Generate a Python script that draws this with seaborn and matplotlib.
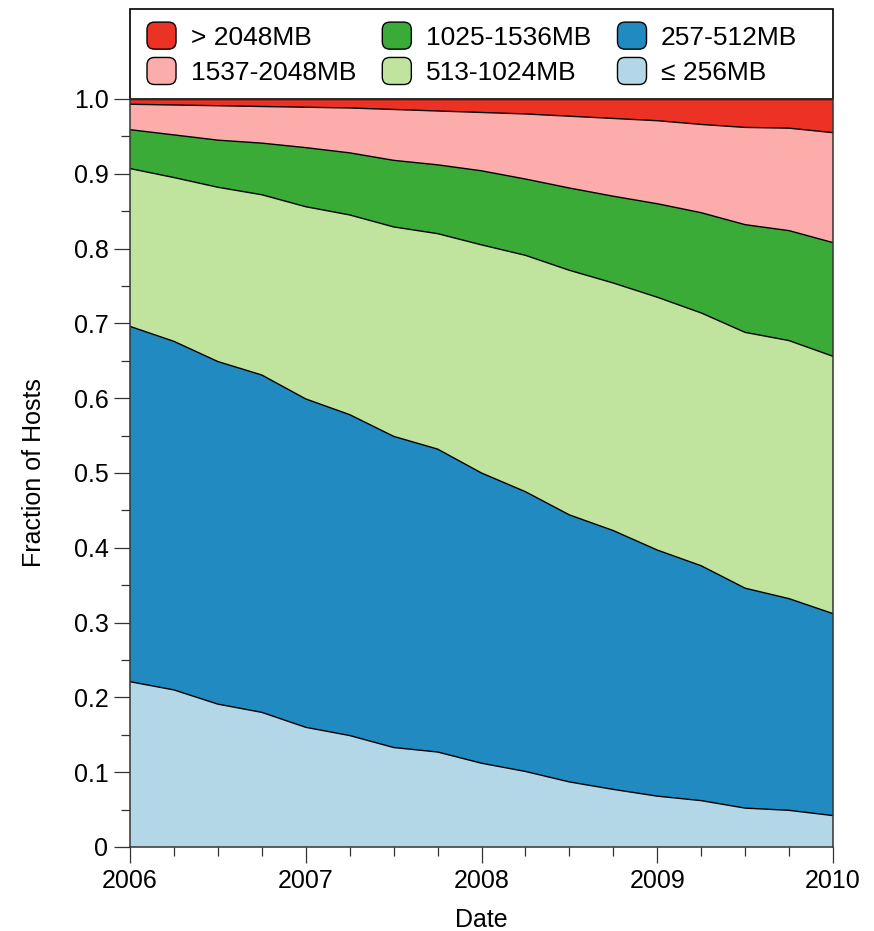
import matplotlib
matplotlib.use("Agg")
import numpy as np
import pandas as pd
import matplotlib.pyplot as plt
import seaborn as sns
from matplotlib.patches import FancyBboxPatch, Rectangle, Patch
from matplotlib.legend_handler import HandlerPatch
from matplotlib.ticker import MultipleLocator, FuncFormatter

# Quarterly sample dates (decimal years)
quarters = [2006.00, 2006.25, 2006.50, 2006.75,
            2007.00, 2007.25, 2007.50, 2007.75,
            2008.00, 2008.25, 2008.50, 2008.75,
            2009.00, 2009.25, 2009.50, 2009.75,
            2010.00]

# Fraction of hosts in each memory class, bottom to top of the stack
mem_le256 = [0.221, 0.210, 0.191, 0.180, 0.160, 0.149, 0.133, 0.127, 0.112,
             0.101, 0.087, 0.077, 0.068, 0.062, 0.052, 0.049, 0.042]
mem_257_512 = [0.475, 0.466, 0.458, 0.451, 0.439, 0.429, 0.416, 0.405, 0.388,
               0.374, 0.357, 0.346, 0.329, 0.314, 0.294, 0.283, 0.270]
mem_513_1024 = [0.211, 0.219, 0.233, 0.241, 0.257, 0.267, 0.280, 0.288, 0.305,
                0.316, 0.327, 0.331, 0.338, 0.338, 0.342, 0.345, 0.344]
mem_1025_1536 = [0.052, 0.057, 0.063, 0.069, 0.079, 0.083, 0.089, 0.092, 0.099,
                 0.102, 0.110, 0.116, 0.125, 0.134, 0.144, 0.147, 0.152]
mem_1537_2048 = [0.034, 0.040, 0.046, 0.049, 0.054, 0.060, 0.068, 0.072, 0.078,
                 0.087, 0.096, 0.104, 0.111, 0.118, 0.130, 0.137, 0.147]
mem_gt2048 = [0.007, 0.008, 0.009, 0.010, 0.011, 0.012, 0.014, 0.016, 0.018,
              0.020, 0.023, 0.026, 0.029, 0.034, 0.038, 0.039, 0.045]

series_labels = ["\u2264 256MB", "257-512MB", "513-1024MB",
                 "1025-1536MB", "1537-2048MB", "> 2048MB"]
series_values = [mem_le256, mem_257_512, mem_513_1024,
                 mem_1025_1536, mem_1537_2048, mem_gt2048]
series_colors = ["#b4d7e8", "#218ac1", "#c0e49e",
                 "#3bab38", "#fcacaa", "#ec3224"]

sns.set_theme(style="ticks")
plt.rcParams["font.family"] = ["Liberation Sans", "DejaVu Sans"]
plt.rcParams["text.color"] = "black"
plt.rcParams["axes.labelcolor"] = "black"
FS = 18
LEG_FS = 19

# Long table of the cumulative upper boundary of every layer
cum = np.cumsum(np.array(series_values), axis=0)
bounds = pd.DataFrame({
    "date": np.tile(quarters, len(series_labels)),
    "top": cum.ravel(),
    "layer": np.repeat(series_labels, len(quarters)),
})

fig = plt.figure(figsize=(8.74, 9.31), dpi=100)
ax = fig.add_axes([130 / 874, 1 - 847 / 931, 703 / 874, 748 / 931])

lower = np.zeros(len(quarters))
for label, color in zip(series_labels, series_colors):
    upper = bounds.loc[bounds["layer"] == label, "top"].to_numpy()
    ax.fill_between(quarters, lower, upper, facecolor=color, edgecolor="none",
                    linewidth=0, zorder=1)
    lower = upper

sns.lineplot(data=bounds, x="date", y="top", units="layer", estimator=None,
             color="black", linewidth=1.0, ax=ax, zorder=2, legend=False)

ax.set_xlim(2006, 2010)
ax.set_ylim(0, 1.0)
ax.xaxis.set_major_locator(MultipleLocator(1))
ax.xaxis.set_minor_locator(MultipleLocator(0.25))
ax.yaxis.set_major_locator(MultipleLocator(0.1))
ax.yaxis.set_minor_locator(MultipleLocator(0.05))
ax.xaxis.set_major_formatter(FuncFormatter(lambda v, p: f"{int(round(v))}"))
ax.yaxis.set_major_formatter(
    FuncFormatter(lambda v, p: "0" if abs(v) < 1e-9 else f"{v:.1f}"))

ax.tick_params(axis="both", which="major", direction="out", length=11.5,
               width=0.9, color="#333333", labelsize=FS, pad=4, labelcolor="black")
ax.tick_params(axis="both", which="minor", direction="out", length=6.5,
               width=0.9, color="#333333")
for side in ["left", "bottom", "right", "top"]:
    ax.spines[side].set_linewidth(1.1)
    ax.spines[side].set_color("#333333")
    ax.spines[side].set_zorder(5)

ax.set_xlabel("Date", fontsize=FS, labelpad=11, color="black")
ax.set_ylabel("Fraction of Hosts", fontsize=FS, labelpad=20, color="black")


class RoundedBoxHandler(HandlerPatch):
    def create_artists(self, legend, orig_handle, xdescent, ydescent,
                       width, height, fontsize, trans):
        box = FancyBboxPatch(
            (-xdescent, -ydescent), width, height,
            boxstyle=f"round,pad=0,rounding_size={0.28 * min(width, height)}",
            facecolor=orig_handle.get_facecolor(), edgecolor="black",
            linewidth=1.0, transform=trans)
        return [box]


# Legend panel sits directly above the plotting area
frame = Rectangle((0, 1.0), 1.0, (847 - 9) / 748 - 1.0, transform=ax.transAxes,
                  facecolor="white", edgecolor="black", linewidth=1.2,
                  clip_on=False, zorder=3)
ax.add_patch(frame)

order = [5, 4, 3, 2, 1, 0]
handles = [Patch(facecolor=series_colors[i]) for i in order]
labels = [series_labels[i] for i in order]
leg = ax.legend(handles, labels, ncol=3, loc="center left",
                bbox_to_anchor=((147 - 130) / 703, (847 - 53.5) / 748),
                frameon=False, fontsize=LEG_FS, labelcolor="black",
                borderpad=0, borderaxespad=0,
                handlelength=1.1, handleheight=1.2, handletextpad=0.55,
                columnspacing=1.0, labelspacing=0.3,
                handler_map={Patch: RoundedBoxHandler()})
leg.set_zorder(4)

fig.savefig("out.png", dpi=100)
